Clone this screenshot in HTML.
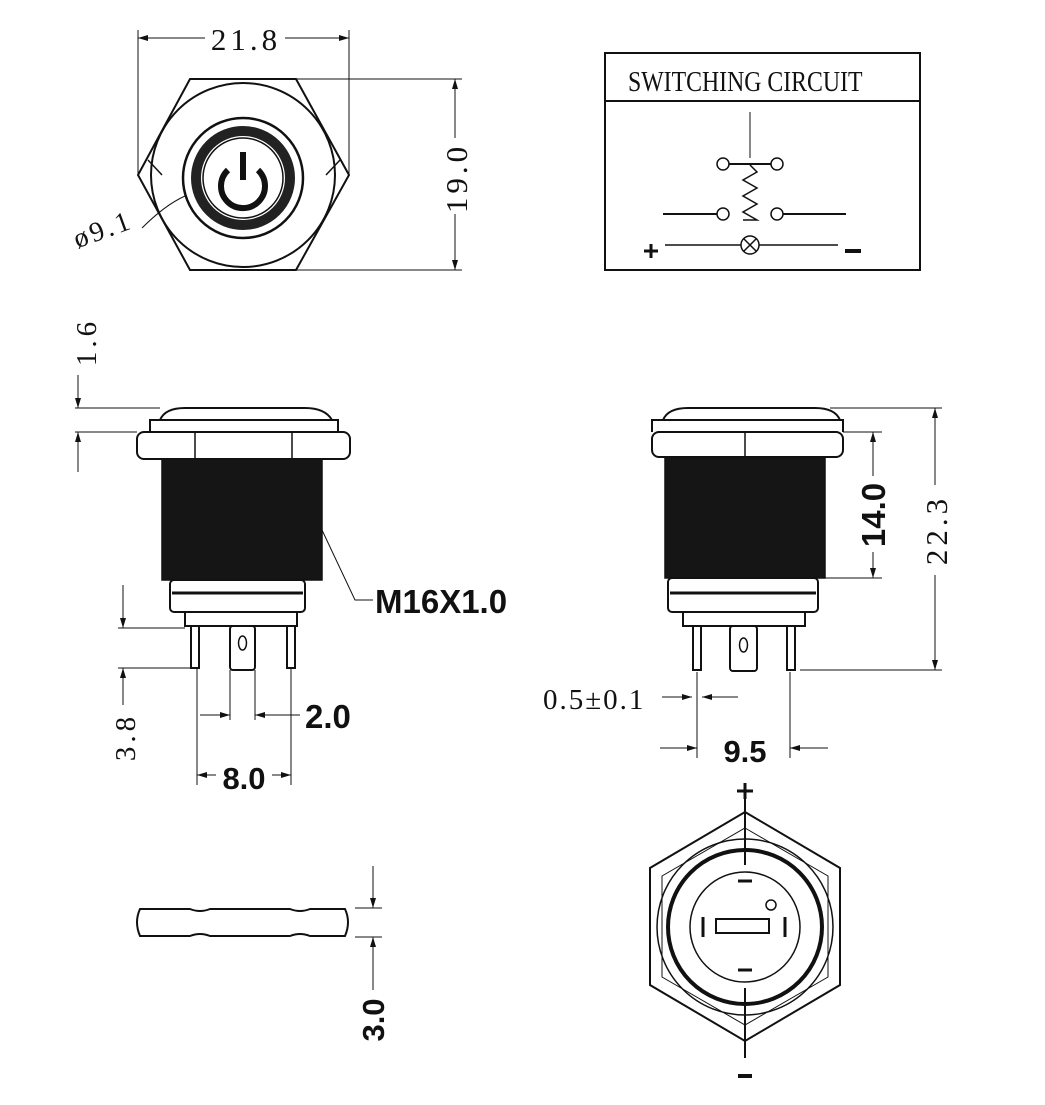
<!DOCTYPE html>
<html><head><meta charset="utf-8"><style>
html,body{margin:0;padding:0;background:#fff}
svg{display:block}
.s{font-family:"Liberation Serif",serif}
.b{font-family:"Liberation Sans",sans-serif;font-weight:bold}
</style></head><body>
<svg width="1045" height="1105" viewBox="0 0 1045 1105" xmlns="http://www.w3.org/2000/svg">
<defs>
<marker id="a" viewBox="0 0 10 6" refX="10" refY="3" markerWidth="12" markerHeight="6" orient="auto" markerUnits="userSpaceOnUse"><path d="M0,0 L10,3 L0,6z" fill="#111"/></marker>
</defs>
<g stroke="#111" fill="none" stroke-width="1.5">
<!-- TOP LEFT VIEW -->
<polygon points="190,79 296,79 349,175 296,270 190,270 138,175" stroke-width="2"/>
<circle cx="243" cy="175" r="92" stroke-width="2"/>
<line x1="148" y1="160" x2="162" y2="175"/><line x1="340" y1="160" x2="326" y2="175"/>
<circle cx="243" cy="178" r="60" stroke-width="2.5"/>
<circle cx="243" cy="178" r="47" stroke="#222" stroke-width="10"/>
<circle cx="243" cy="178" r="40" stroke-width="1.5"/>
<path d="M228,170 A22,22 0 1 0 258,170" stroke-width="6"/>
<line x1="243" y1="152" x2="243" y2="180" stroke-width="6"/>
<line x1="138" y1="30" x2="138" y2="175" stroke-width="1"/>
<line x1="349" y1="30" x2="349" y2="175" stroke-width="1"/>
<line x1="205" y1="38" x2="138" y2="38" marker-end="url(#a)" stroke-width="1"/>
<line x1="285" y1="38" x2="349" y2="38" marker-end="url(#a)" stroke-width="1"/>
<line x1="296" y1="79" x2="462" y2="79" stroke-width="1"/>
<line x1="296" y1="270" x2="462" y2="270" stroke-width="1"/>
<line x1="455" y1="138" x2="455" y2="79" marker-end="url(#a)" stroke-width="1"/>
<line x1="455" y1="214" x2="455" y2="270" marker-end="url(#a)" stroke-width="1"/>
<path d="M142,228 Q165,205 185,196" stroke-width="1"/>
<!-- SWITCHING CIRCUIT -->
<rect x="605" y="53" width="315" height="217" stroke-width="2"/>
<line x1="605" y1="101" x2="920" y2="101" stroke-width="2"/>
<line x1="750" y1="112" x2="750" y2="158" stroke-width="1"/>
<circle cx="723" cy="164" r="6"/><circle cx="777" cy="164" r="6"/>
<line x1="729" y1="164" x2="771" y2="164" stroke-width="2"/>
<polyline points="750,165 757,172 743,180 757,188 743,196 757,204 743,212 757,220 743,220"/>
<circle cx="723" cy="214" r="6"/><circle cx="777" cy="214" r="6"/>
<line x1="663" y1="214" x2="717" y2="214" stroke-width="2"/>
<line x1="783" y1="214" x2="846" y2="214" stroke-width="2"/>
<line x1="665" y1="245" x2="741" y2="245"/><line x1="759" y1="245" x2="838" y2="245"/>
<circle cx="750" cy="245" r="9"/>
<line x1="744" y1="239" x2="756" y2="251"/><line x1="756" y1="239" x2="744" y2="251"/>
<line x1="644" y1="251" x2="658" y2="251" stroke-width="3"/><line x1="651" y1="244" x2="651" y2="258" stroke-width="3"/>
<line x1="845" y1="251" x2="861" y2="251" stroke-width="4"/>
<!-- LEFT SIDE VIEW -->
<path d="M160,420 Q165,408 185,408 L305,408 Q325,408 332,420 Z" stroke-width="2"/>
<path d="M150,432 L150,420 L338,420 L338,432" stroke-width="2"/>
<rect x="137" y="432" width="213" height="27" rx="7" stroke-width="2"/>
<line x1="195" y1="432" x2="195" y2="459"/><line x1="292" y1="432" x2="292" y2="459"/>
<rect x="162" y="459" width="160" height="121" fill="#151515" stroke="#111"/>
<rect x="170" y="580" width="135" height="32" rx="4" stroke-width="2"/>
<line x1="172" y1="593" x2="303" y2="593" stroke-width="3"/>
<rect x="185" y="612" width="112" height="14" stroke-width="2"/>
<rect x="191" y="626" width="8" height="42" stroke-width="2"/>
<rect x="230" y="626" width="25" height="44" rx="3" stroke-width="2"/>
<ellipse cx="242.5" cy="643" rx="4" ry="7"/>
<rect x="287" y="626" width="8" height="42" stroke-width="2"/>
<line x1="75" y1="408" x2="160" y2="408" stroke-width="1"/>
<line x1="75" y1="432" x2="137" y2="432" stroke-width="1"/>
<line x1="78" y1="375" x2="78" y2="408" marker-end="url(#a)" stroke-width="1"/>
<line x1="78" y1="472" x2="78" y2="432" marker-end="url(#a)" stroke-width="1"/>
<line x1="118" y1="628" x2="185" y2="628" stroke-width="1"/>
<line x1="118" y1="668" x2="191" y2="668" stroke-width="1"/>
<line x1="123" y1="585" x2="123" y2="628" marker-end="url(#a)" stroke-width="1"/>
<line x1="123" y1="705" x2="123" y2="668" marker-end="url(#a)" stroke-width="1"/>
<line x1="230" y1="670" x2="230" y2="720" stroke-width="1"/>
<line x1="255" y1="670" x2="255" y2="720" stroke-width="1"/>
<line x1="200" y1="715" x2="230" y2="715" marker-end="url(#a)" stroke-width="1"/>
<line x1="300" y1="715" x2="255" y2="715" marker-end="url(#a)" stroke-width="1"/>
<line x1="197" y1="668" x2="197" y2="785" stroke-width="1"/>
<line x1="291" y1="668" x2="291" y2="785" stroke-width="1"/>
<line x1="216" y1="775" x2="197" y2="775" marker-end="url(#a)" stroke-width="1"/>
<line x1="272" y1="775" x2="291" y2="775" marker-end="url(#a)" stroke-width="1"/>
<polyline points="322,530 355,600 373,600" stroke-width="1"/>
<!-- RIGHT SIDE VIEW -->
<path d="M663,420 Q668,408 688,408 L815,408 Q835,408 840,420 Z" stroke-width="2"/>
<path d="M652,432 L652,420 L843,420 L843,432" stroke-width="2"/>
<rect x="652" y="432" width="191" height="25" rx="7" stroke-width="2"/>
<line x1="745" y1="432" x2="745" y2="457"/>
<rect x="665" y="457" width="160" height="121" fill="#151515" stroke="#111"/>
<rect x="668" y="578" width="150" height="34" rx="4" stroke-width="2"/>
<line x1="670" y1="593" x2="816" y2="593" stroke-width="3"/>
<rect x="683" y="612" width="122" height="14" stroke-width="2"/>
<rect x="693" y="626" width="8" height="44" stroke-width="2"/>
<rect x="730" y="626" width="27" height="45" rx="3" stroke-width="2"/>
<ellipse cx="743.5" cy="645" rx="4" ry="7"/>
<rect x="787" y="626" width="8" height="44" stroke-width="2"/>
<line x1="830" y1="408" x2="942" y2="408" stroke-width="1"/>
<line x1="843" y1="432" x2="882" y2="432" stroke-width="1"/>
<line x1="825" y1="578" x2="882" y2="578" stroke-width="1"/>
<line x1="800" y1="670" x2="942" y2="670" stroke-width="1"/>
<line x1="873" y1="476" x2="873" y2="432" marker-end="url(#a)" stroke-width="1"/>
<line x1="873" y1="552" x2="873" y2="578" marker-end="url(#a)" stroke-width="1"/>
<line x1="935" y1="485" x2="935" y2="408" marker-end="url(#a)" stroke-width="1"/>
<line x1="935" y1="575" x2="935" y2="670" marker-end="url(#a)" stroke-width="1"/>
<line x1="697" y1="672" x2="697" y2="758" stroke-width="1"/>
<line x1="790" y1="672" x2="790" y2="758" stroke-width="1"/>
<line x1="662" y1="697" x2="692" y2="697" marker-end="url(#a)" stroke-width="1"/>
<line x1="738" y1="697" x2="702" y2="697" marker-end="url(#a)" stroke-width="1"/>
<line x1="660" y1="748" x2="697" y2="748" marker-end="url(#a)" stroke-width="1"/>
<line x1="828" y1="748" x2="790" y2="748" marker-end="url(#a)" stroke-width="1"/>
<!-- BOTTOM LEFT NUT -->
<path d="M140,909 L190,909 Q200,913 210,909 L290,909 Q300,913 310,909 L345,909 Q351,922 345,936 L310,936 Q300,932 290,936 L210,936 Q200,932 190,936 L140,936 Q134,922 140,909 Z" stroke-width="2"/>
<line x1="355" y1="908" x2="382" y2="908" stroke-width="1"/>
<line x1="355" y1="937" x2="382" y2="937" stroke-width="1"/>
<line x1="373" y1="866" x2="373" y2="908" marker-end="url(#a)" stroke-width="1"/>
<line x1="373" y1="990" x2="373" y2="937" marker-end="url(#a)" stroke-width="1"/>
<!-- BOTTOM RIGHT VIEW -->
<polygon points="745,812 840,868 840,985 745,1041 650,985 650,868" stroke-width="2"/>
<polygon points="745,828 828,876 828,977 745,1025 662,977 662,876" stroke-width="1"/>
<circle cx="745" cy="927" r="88" stroke-width="1.5"/>
<circle cx="745" cy="927" r="77" stroke-width="4"/>
<circle cx="745" cy="927" r="55" stroke-width="1.5"/>
<line x1="745" y1="795" x2="745" y2="865" stroke-width="2"/>
<line x1="745" y1="988" x2="745" y2="1058" stroke-width="2"/>
<line x1="738" y1="881" x2="752" y2="881" stroke-width="3"/>
<line x1="738" y1="970" x2="752" y2="970" stroke-width="3"/>
<rect x="716" y="919" width="53" height="14" stroke-width="2"/>
<line x1="703" y1="917" x2="703" y2="937" stroke-width="3"/>
<line x1="785" y1="917" x2="785" y2="937" stroke-width="3"/>
<circle cx="771" cy="905" r="5"/>
<line x1="737" y1="791" x2="753" y2="791" stroke-width="3"/><line x1="745" y1="783" x2="745" y2="799" stroke-width="3"/>
<line x1="738" y1="1076" x2="752" y2="1076" stroke-width="4"/>
</g>
<g fill="#111">
<text class="s" x="246" y="50" font-size="31" letter-spacing="4" text-anchor="middle">21.8</text>
<text class="s" font-size="31" letter-spacing="4" text-anchor="middle" transform="translate(467,178) rotate(-90)">19.0</text>
<text class="s" font-size="28" letter-spacing="3" text-anchor="middle" transform="translate(106,238) rotate(-20)">ø9.1</text>
<text class="s" font-size="28" transform="translate(628,91) scale(0.85,1)">SWITCHING CIRCUIT</text>
<text class="s" font-size="29" letter-spacing="4" text-anchor="middle" transform="translate(96,342) rotate(-90)">1.6</text>
<text class="s" font-size="29" letter-spacing="4" text-anchor="middle" transform="translate(135,737) rotate(-90)">3.8</text>
<text class="b" x="305" y="728" font-size="33">2.0</text>
<text class="b" x="244" y="789" font-size="31" text-anchor="middle">8.0</text>
<text class="b" x="375" y="613" font-size="33">M16X1.0</text>
<text class="b" font-size="33" text-anchor="middle" transform="translate(885,515) rotate(-90)">14.0</text>
<text class="s" font-size="31" letter-spacing="4" text-anchor="middle" transform="translate(947,530) rotate(-90)">22.3</text>
<text class="s" x="543" y="709" font-size="29" letter-spacing="2">0.5±0.1</text>
<text class="b" x="745" y="762" font-size="31" text-anchor="middle">9.5</text>
<text class="b" font-size="31" text-anchor="middle" transform="translate(384,1020) rotate(-90)">3.0</text>
</g>
</svg>
</body></html>
